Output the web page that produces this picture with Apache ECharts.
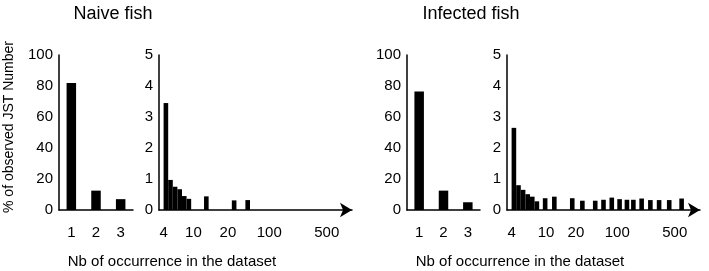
<!DOCTYPE html>
<html>
<head>
<meta charset="utf-8">
<script src="https://cdn.jsdelivr.net/npm/echarts@6/dist/echarts.min.js"></script>
<style>
  html, body { margin: 0; padding: 0; background: #fff; }
  #chart { width: 709px; height: 271px; }
</style>
</head>
<body>
<div id="chart"></div>
<script>
// first three classes (1, 2, 3 occurrences), % of JST
var smallCats = ['1', '2', '3'];
var naiveSmall = [82, 12.5, 7];
var infectedSmall = [76.5, 12.5, 5];

// tail (>= 4 occurrences), position on the compressed x scale + %
var naiveTailPos = [1.5, 2.5, 3.5, 4.5, 5.5, 6.5, 10.3, 16.35, 19.3];
var naiveTailVal = [3.45, 0.97, 0.75, 0.67, 0.45, 0.36, 0.44, 0.31, 0.32];

var infectedTailPos = [1.5, 2.5, 3.5, 4.5, 5.5, 6.5, 8.3, 10.3, 14.2, 16.4,
                       19.2, 21, 22.8, 24.5, 26.1, 27.5, 29.3, 31.2, 33.1, 35.3, 38];
var infectedTailVal = [2.65, 0.8, 0.65, 0.51, 0.43, 0.28, 0.38, 0.43, 0.38, 0.3,
                       0.3, 0.33, 0.4, 0.35, 0.33, 0.33, 0.37, 0.32, 0.32, 0.32, 0.37];

// tick labels of the tail axis
var tailTickLabels = ['4', '10', '20', '100', '500'];
var naiveTickPos = [1, 7.5, 15, 24, 36.5];
var infectedTickPos = [1, 8.5, 15, 24, 36.5];

var FONT = '"Liberation Sans", Arial, Helvetica, sans-serif';

function pairs(xs, ys) {
  var out = [];
  for (var i = 0; i < xs.length; i++) out.push([xs[i], ys[i]]);
  return out;
}

function tickFormatter(pos) {
  return function (v) {
    for (var i = 0; i < pos.length; i++) {
      if (Math.abs(pos[i] - v) < 0.01) return tailTickLabels[i];
    }
    return '';
  };
}

var axisLine = { show: true, lineStyle: { color: '#000', width: 1.5 } };
var labelStyle = { color: '#000', fontFamily: FONT, fontSize: 15 };

function smallXAxis(grid) {
  return {
    type: 'category', gridIndex: grid, data: smallCats,
    axisLine: axisLine, axisTick: { show: false },
    axisLabel: Object.assign({ margin: 15 }, labelStyle)
  };
}

function tailXAxis(grid, pos) {
  return {
    type: 'value', gridIndex: grid, min: 0, max: 42, interval: 0.5,
    axisLine: { show: true, lineStyle: { color: '#000', width: 1.5 },
                symbol: ['none', 'arrow'], symbolSize: [11, 12] },
    axisTick: { show: false }, splitLine: { show: false },
    axisLabel: Object.assign({ margin: 15, formatter: tickFormatter(pos) }, labelStyle)
  };
}

function yAxis(grid, max, interval) {
  return {
    type: 'value', gridIndex: grid, min: 0, max: max, interval: interval,
    axisLine: axisLine, axisTick: { show: false }, splitLine: { show: false },
    axisLabel: Object.assign({ margin: 6 }, labelStyle)
  };
}

var chart = echarts.init(document.getElementById('chart'));

var option = {
  backgroundColor: '#fff',
  animation: false,
  grid: [
    { left: 59, top: 55, width: 74, height: 155 },
    { left: 159, top: 55, width: 193, height: 155 },
    { left: 407, top: 55, width: 73, height: 155 },
    { left: 507, top: 55, width: 193, height: 155 }
  ],
  xAxis: [
    smallXAxis(0),
    tailXAxis(1, naiveTickPos),
    smallXAxis(2),
    tailXAxis(3, infectedTickPos)
  ],
  yAxis: [
    yAxis(0, 100, 20),
    yAxis(1, 5, 1),
    yAxis(2, 100, 20),
    yAxis(3, 5, 1)
  ],
  series: [
    { type: 'bar', xAxisIndex: 0, yAxisIndex: 0, data: naiveSmall,
      barWidth: 9.5, itemStyle: { color: '#000' } },
    { type: 'bar', xAxisIndex: 1, yAxisIndex: 1, data: pairs(naiveTailPos, naiveTailVal),
      barWidth: 4.6, itemStyle: { color: '#000' } },
    { type: 'bar', xAxisIndex: 2, yAxisIndex: 2, data: infectedSmall,
      barWidth: 9.5, itemStyle: { color: '#000' } },
    { type: 'bar', xAxisIndex: 3, yAxisIndex: 3, data: pairs(infectedTailPos, infectedTailVal),
      barWidth: 4.6, itemStyle: { color: '#000' } }
  ],
  graphic: [
    { type: 'text', x: 113, y: 14,
      style: { text: 'Naive fish', fill: '#000', font: '18px ' + FONT,
               align: 'center', verticalAlign: 'middle', textAlign: 'center', textVerticalAlign: 'middle' } },
    { type: 'text', x: 471, y: 14,
      style: { text: 'Infected fish', fill: '#000', font: '18px ' + FONT,
               align: 'center', verticalAlign: 'middle', textAlign: 'center', textVerticalAlign: 'middle' } },
    { type: 'text', x: 9, y: 127, rotation: Math.PI / 2,
      style: { text: '% of observed JST Number', fill: '#000', font: '14px ' + FONT,
               align: 'center', verticalAlign: 'middle', textAlign: 'center', textVerticalAlign: 'middle' } },
    { type: 'text', x: 172, y: 262,
      style: { text: 'Nb of occurrence in the dataset', fill: '#000', font: '15px ' + FONT,
               align: 'center', verticalAlign: 'middle', textAlign: 'center', textVerticalAlign: 'middle' } },
    { type: 'text', x: 520, y: 262,
      style: { text: 'Nb of occurrence in the dataset', fill: '#000', font: '15px ' + FONT,
               align: 'center', verticalAlign: 'middle', textAlign: 'center', textVerticalAlign: 'middle' } }
  ]
};

chart.setOption(option);
</script>
</body>
</html>
